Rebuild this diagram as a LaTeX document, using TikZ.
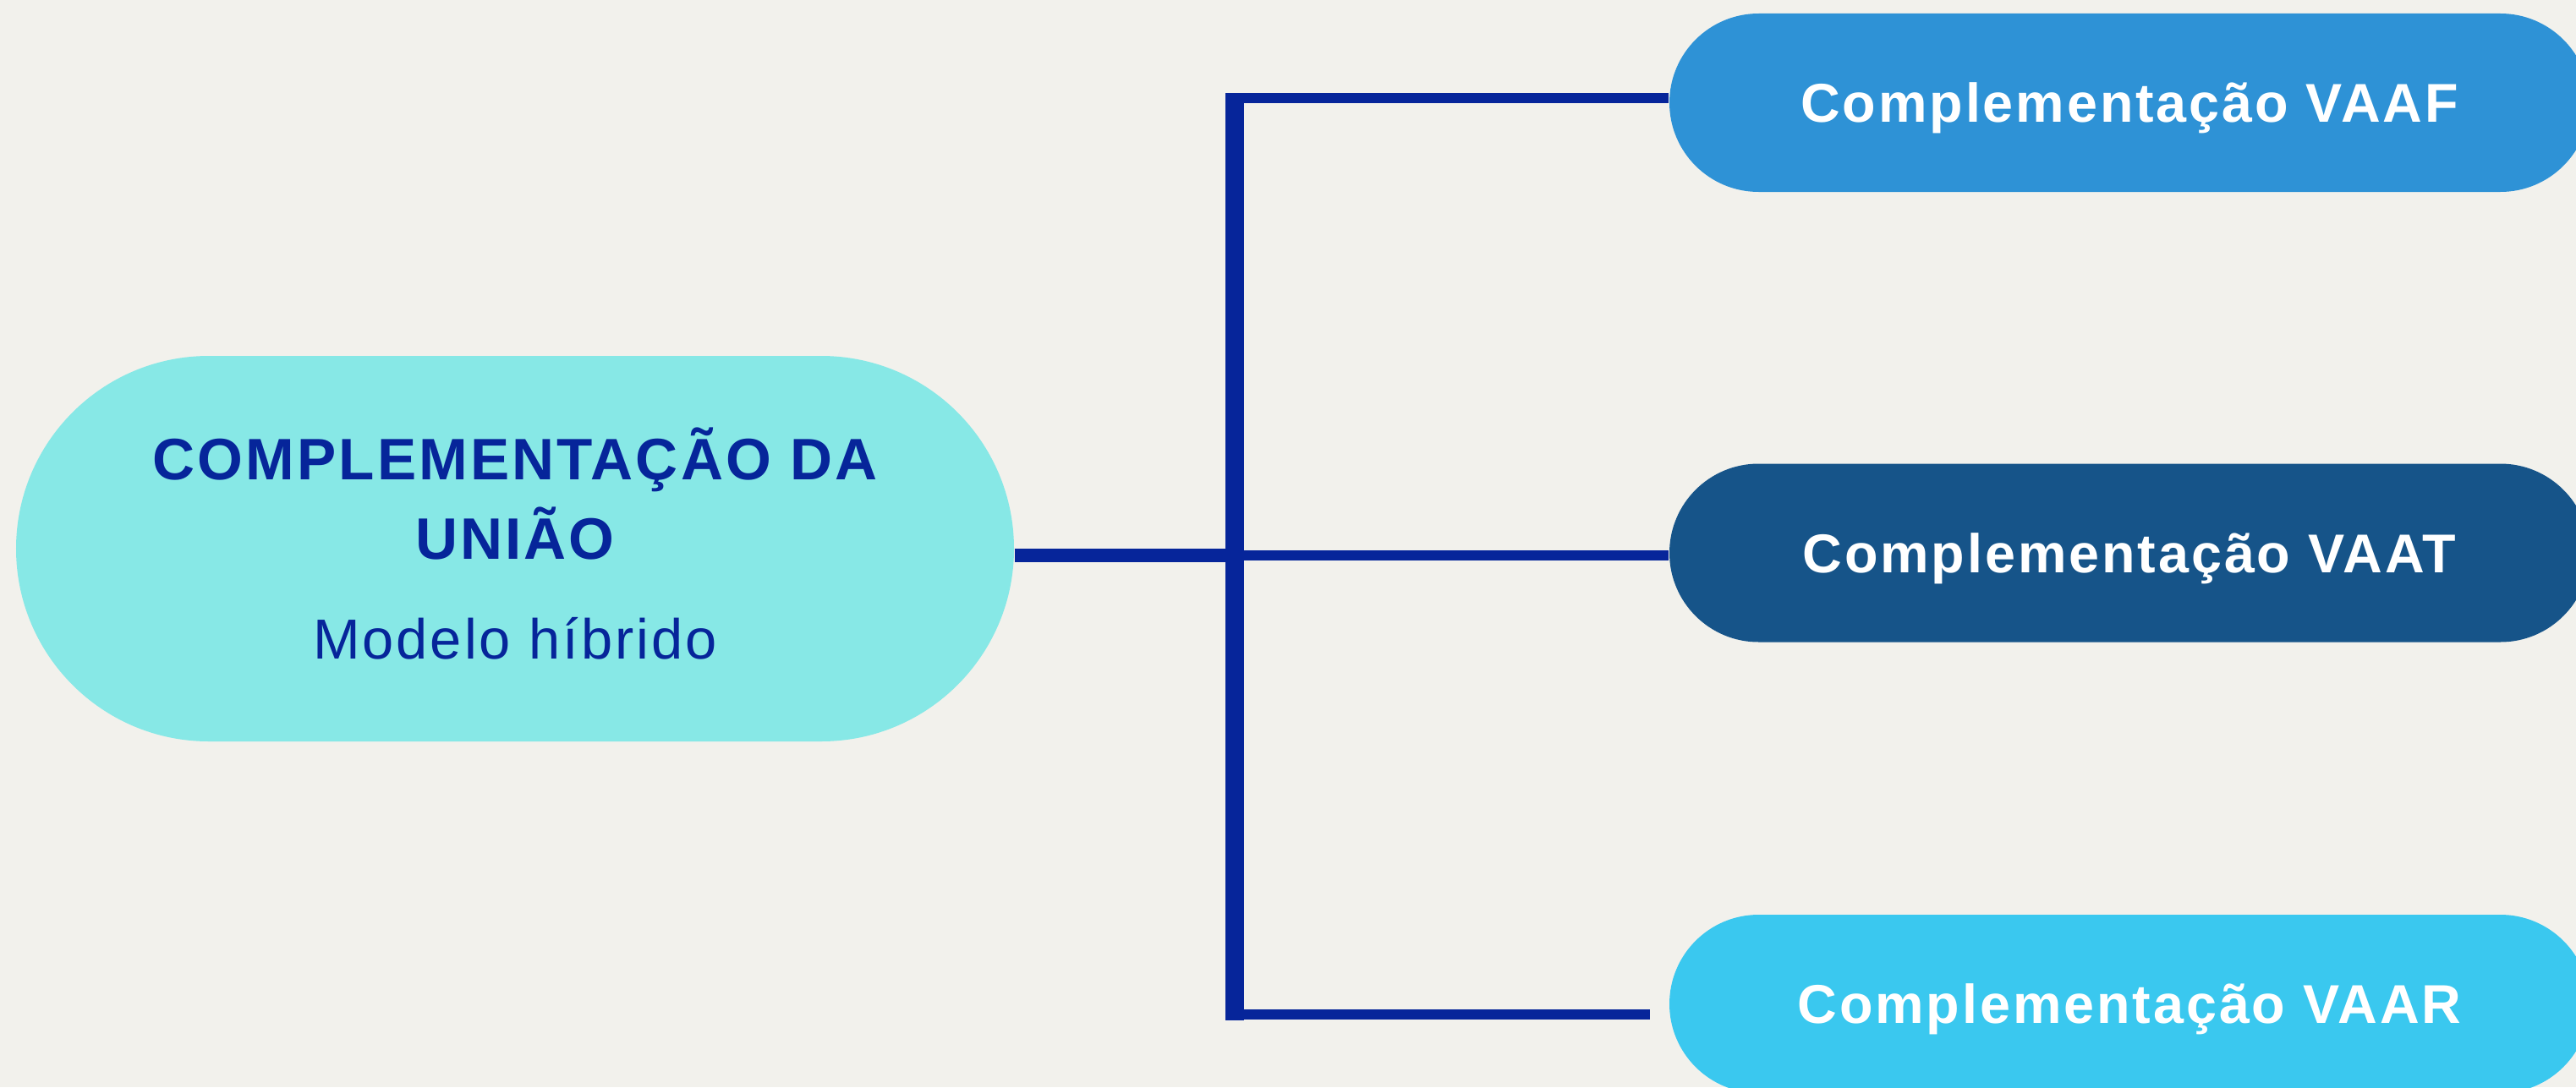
\documentclass[tikz,border=0pt]{standalone}
\usepackage{fontspec}
\setmainfont{Liberation Sans}[LetterSpace=4.5]
\definecolor{bgcream}{HTML}{F2F1EC}
\definecolor{linkblue}{HTML}{06259A}
\definecolor{paleteal}{HTML}{87E8E6}
\definecolor{vaafblue}{HTML}{2E92D6}
\definecolor{vaatblue}{HTML}{165489}
\definecolor{vaarblue}{HTML}{3AC8EF}
\tikzset{
	pill/.style={rectangle,rounded corners=1.055cm,minimum width=10.88cm,minimum height=2.11cm,inner sep=0pt,text height=13.2pt,text depth=0pt,text=white,font=\fontsize{18.4}{21}\selectfont\bfseries},
	link/.style={draw=linkblue,line width=0.12cm},
}
\begin{document}
\begin{tikzpicture}
	   \fill [bgcream] (0,0) rectangle (30.46,12.86);
	   \useasboundingbox (0,0) rectangle (30.46,12.86);
	   \node [fill=paleteal,rounded corners=2.28cm,minimum width=11.80cm,minimum height=4.56cm,inner sep=0pt,align=center,text height=74.5pt,text depth=0pt,text=linkblue,font=\fontsize{19.7}{26.65}\selectfont] (uniao) at (6.09,6.37) {\bfseries COMPLEMENTAÇÃO DA\\ \bfseries UNIÃO\\[7.05pt] \fontsize{19}{26.65}\selectfont Modelo híbrido};
	   \node [pill,fill=vaafblue] (vaaf) at (25.18,11.645) {Complementação VAAF};
	   \node [pill,fill=vaatblue] (vaat) at (25.18,6.32) {Complementação VAAT};
	   \node [pill,fill=vaarblue] (vaar) at (25.18,0.985) {Complementação VAAR};
	   \coordinate (trunktop) at (14.60,11.76);
	   \coordinate (trunkbot) at (14.60,0.79);
	   \coordinate (vaafstart) at (14.60,11.70);
	   \coordinate (hub) at (14.60,6.29);
	   \coordinate (vaarend) at (19.51,0.86);
	   \draw [link,line width=0.22cm] (trunktop) -- (trunkbot);
	   \draw [link,line width=0.16cm] (uniao.east |- hub) -- (hub);
	   \draw [link] (vaafstart) -- (vaafstart -| vaaf.west);
	   \draw [link] (hub) -- (hub -| vaat.west);
	   \draw [link] (trunktop |- vaarend) -- (vaarend);
	\end{tikzpicture}
\end{document}
